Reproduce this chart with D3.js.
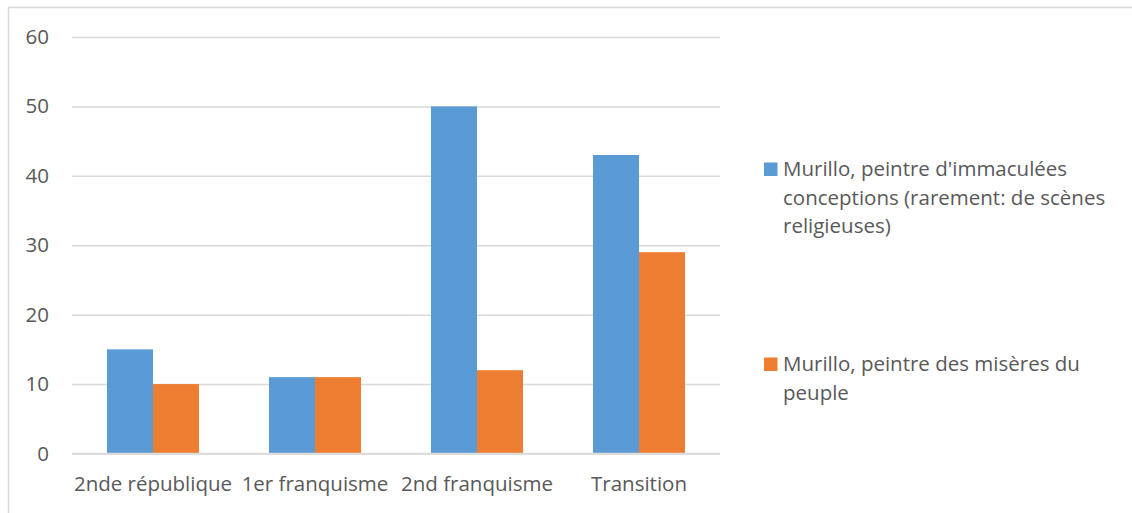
<!DOCTYPE html>
<html><head><meta charset="utf-8">
<script src="https://cdn.jsdelivr.net/npm/d3@7"></script>
<style>html,body{margin:0;padding:0;background:#fff;}svg{display:block;}</style>
</head><body>
<svg id="c" width="1132" height="513"></svg>
<script>
const categories = ["2nde république", "1er franquisme", "2nd franquisme", "Transition"];
const seriesNames = ["Murillo, peintre d'immaculées conceptions (rarement: de scènes religieuses)", "Murillo, peintre des misères du peuple"];
const legendLines = [["Murillo, peintre d'immaculées", "conceptions (rarement: de scènes", "religieuses)"], ["Murillo, peintre des misères du", "peuple"]];
const immaculees = [15, 11, 50, 43];
const miseres = [10, 11, 12, 29];
const yTicks = [0, 10, 20, 30, 40, 50, 60];
const colors = ["#5b9bd5", "#ed7d31"];

const svg = d3.select("#c");
const font = "'Open Sans', 'Noto Sans', sans-serif";
const fs = "20.5px";
const txt = "#595959";

// outer border (top and left visible)
svg.append("line").attr("x1", 8).attr("x2", 1132).attr("y1", 7.5).attr("y2", 7.5).attr("stroke", "#d9d9d9").attr("stroke-width", 1.5);
svg.append("line").attr("x1", 8.5).attr("x2", 8.5).attr("y1", 7).attr("y2", 513).attr("stroke", "#d9d9d9").attr("stroke-width", 1.5);

const x0 = d3.scaleBand().domain(categories).range([72, 720]).paddingInner(0.432).paddingOuter(0.216);
const x1 = d3.scaleBand().domain([0, 1]).range([0, x0.bandwidth()]);
const y = d3.scaleLinear().domain([0, 60]).range([453.5, 37]);

// gridlines
const yAxis = d3.axisLeft(y).tickValues(yTicks).tickSize(-(720 - 72)).tickPadding(23).tickFormat(d3.format("d"));
const gy = svg.append("g").attr("transform", "translate(72,0)").call(yAxis);
gy.select(".domain").remove();
gy.selectAll(".tick line").attr("stroke", "#d9d9d9").attr("stroke-width", 1.5);
gy.selectAll(".tick text").attr("fill", txt).style("font-family", font).style("font-size", fs);

const data = categories.map((c, i) => ({ c, v: [immaculees[i], miseres[i]] }));
const groups = svg.append("g").selectAll("g").data(data).join("g")
  .attr("transform", d => `translate(${x0(d.c)},0)`);
groups.selectAll("rect").data(d => d.v.map((v, k) => ({ v, k }))).join("rect")
  .attr("x", d => x1(d.k)).attr("width", x1.bandwidth())
  .attr("y", d => y(d.v)).attr("height", d => y(0) - y(d.v))
  .attr("fill", d => colors[d.k]);

// baseline redraw on top
svg.append("line").attr("x1", 72).attr("x2", 720).attr("y1", y(0)).attr("y2", y(0)).attr("stroke", "#d9d9d9").attr("stroke-width", 1.5);

// x axis labels
const xAxis = d3.axisBottom(x0).tickSize(0).tickPadding(23);
const gx = svg.append("g").attr("transform", `translate(0,${y(0)})`).call(xAxis);
gx.select(".domain").remove();
gx.selectAll(".tick text").attr("fill", txt).style("font-family", font).style("font-size", fs);

// legend
const legendY = [169, 364];
const lg = svg.append("g");
legendLines.forEach((lines, k) => {
  lg.append("rect").attr("x", 764).attr("y", legendY[k] - 6.5).attr("width", 13.5).attr("height", 13.5).attr("fill", colors[k]);
  const t = lg.append("text").attr("x", 783).attr("y", legendY[k])
    .attr("fill", txt).style("font-family", font).style("font-size", fs);
  lines.forEach((l, j) => t.append("tspan").attr("x", 783).attr("dy", j === 0 ? "0.35em" : 28.5).text(l));
});
</script>
</body></html>
